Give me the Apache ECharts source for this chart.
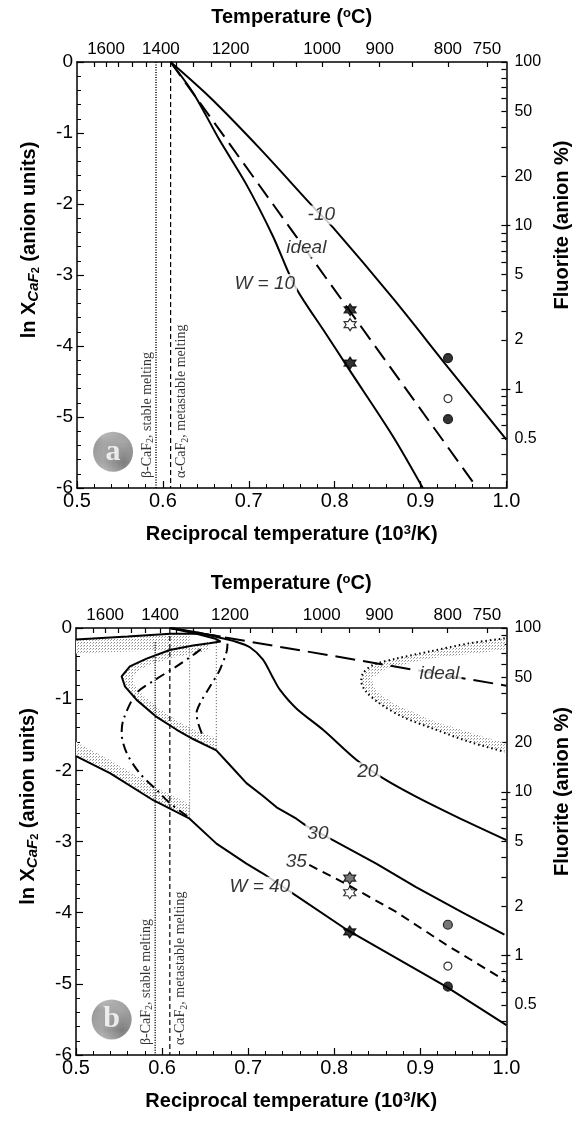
<!DOCTYPE html>
<html><head><meta charset="utf-8">
<script src="https://cdn.jsdelivr.net/npm/echarts@6/dist/echarts.min.js"></script>
<style>html,body{margin:0;padding:0;background:#fff}#c{width:580px;height:1122px}</style>
</head><body><div id="c"></div><script>
// ---------- tick definitions ----------
const xTicks = [0.5, 0.6, 0.7, 0.8, 0.9, 1.0];
const tempTicks = [1650,1600,1550,1500,1450,1400,1350,1300,1250,1200,1150,1100,1050,1000,950,900,850,800,750];
const tempLabels = [1600,1400,1200,1000,900,800,750];
const pctTicks = [100,90,80,70,60,50,40,30,20,10,9,8,7,6,5,4,3,2,1,0.9,0.8,0.7,0.6,0.5,0.4,0.3];
const pctLabels = [100,50,20,10,5,2,1,0.5];
const pctLongTicks = [10,1];

// melting lines (10^3/K)
const meltBeta = 0.592;
const meltAlpha = 0.609;

// ---------- panel a ----------
const aWm10 = [[0.609,0],[0.655,-0.5],[0.713,-1.22],[0.775,-2.04],[0.798,-2.33],[0.868,-3.33],[0.932,-4.30],[1.0,-5.32]];
const aIdeal = [[0.609,0],[0.966,-6]];
const aW10 = [[0.609,0],[0.636,-0.45],[0.666,-1.1],[0.697,-1.72],[0.728,-2.45],[0.7535,-3.15],[0.79,-3.83],[0.8174,-4.34],[0.8678,-5.27],[0.9027,-6]];
const aStarFilled = [[0.818,-3.49],[0.818,-4.24]];
const aStarOpen = [[0.818,-3.70]];
const aCircFilled = [[0.932,-4.17],[0.932,-5.03]];
const aCircOpen = [[0.932,-4.74]];

// ---------- panel b ----------
const bIdeal = [[0.609,0],[1.0,-0.81]];
const bW20 = [[0.609,0],[0.64,-0.06],[0.665,-0.13],[0.685,-0.19],[0.702,-0.27],[0.717,-0.44],[0.728,-0.68],[0.737,-0.87],[0.756,-1.13],[0.787,-1.43],[0.826,-1.855],[0.8565,-2.11],[0.895,-2.37],[0.9416,-2.65],[1.0,-2.98]];
const bW30 = [[0.609,0],[0.64,-0.08],[0.662,-0.15],[0.668,-0.19],[0.655,-0.215],[0.636,-0.245],[0.609,-0.31],[0.582,-0.43],[0.5626,-0.54],[0.553,-0.68],[0.557,-0.825],[0.5704,-1.01],[0.5936,-1.25],[0.617,-1.43],[0.636,-1.56],[0.663,-1.72],[0.6787,-1.925],[0.698,-2.18],[0.7173,-2.36],[0.733,-2.52],[0.756,-2.68],[0.7676,-2.78],[0.7985,-2.98],[0.8488,-3.31],[0.895,-3.64],[0.9493,-4.0],[0.9977,-4.31]];
const bW35 = [[0.771,-3.33],[0.8159,-3.61],[0.872,-3.99],[0.930,-4.45],[0.998,-4.95]];
const bW40Upper = [[0.5,-0.16],[0.56,-0.12],[0.61,-0.08],[0.645,-0.08],[0.668,-0.12]];
const bW40Lower = [[0.5,-1.80],[0.5394,-2.04],[0.5897,-2.42],[0.632,-2.68],[0.6632,-3.03],[0.698,-3.31],[0.7173,-3.45],[0.7483,-3.70],[0.8159,-4.25],[0.930,-5.04],[1.0,-5.58]];
const bDashDotLeft = [[0.645,-0.3],[0.636,-0.38],[0.6155,-0.55],[0.5917,-0.73],[0.570,-0.92],[0.555,-1.29],[0.553,-1.48],[0.559,-1.76],[0.574,-2.04],[0.594,-2.28],[0.609,-2.46],[0.630,-2.65]];
const bDashDotRight = [[0.676,-0.22],[0.675,-0.33],[0.667,-0.59],[0.6555,-0.825],[0.644,-1.06],[0.640,-1.2],[0.642,-1.34],[0.6477,-1.53]];
const bSolvus40 = [[0.632,-0.3],[0.632,-2.68]];
const bSolvus30 = [[0.663,-0.17],[0.663,-1.72]];
const bBetaLine = [[meltBeta,-0.2],[meltBeta,-6]];
const bAlphaLine = [[meltAlpha,0],[meltAlpha,-6]];
const bRightDotted = [[0.998,-0.145],[0.957,-0.215],[0.9107,-0.33],[0.872,-0.43],[0.845,-0.52],[0.8333,-0.64],[0.8314,-0.75],[0.837,-0.895],[0.8527,-1.06],[0.8797,-1.25],[0.9184,-1.43],[0.957,-1.60],[0.998,-1.74]];
const bRightInner = [[0.998,-0.31],[0.9107,-0.43],[0.8603,-0.57],[0.843,-0.71],[0.8488,-0.895],[0.872,-1.08],[0.9184,-1.32],[0.998,-1.62]];
const bBandTop = [[0.5,-0.16],[0.56,-0.12],[0.61,-0.08],[0.632,-0.08],[0.632,-0.3],[0.56,-0.33],[0.5,-0.36]];
const bBandNoseOuter = [[0.663,-0.17],[0.636,-0.245],[0.609,-0.31],[0.582,-0.43],[0.5626,-0.54],[0.553,-0.68],[0.557,-0.825],[0.5704,-1.01],[0.5936,-1.25],[0.617,-1.43],[0.636,-1.56],[0.663,-1.72]];
const bBandNoseInner = [[0.663,-1.55],[0.636,-1.42],[0.617,-1.30],[0.595,-1.12],[0.578,-0.95],[0.568,-0.8],[0.567,-0.68],[0.575,-0.58],[0.59,-0.5],[0.612,-0.42],[0.636,-0.36],[0.655,-0.32],[0.655,-0.25]];
const bBandLower = [[0.5,-1.6],[0.54,-1.86],[0.59,-2.22],[0.632,-2.48],[0.632,-2.68],[0.5897,-2.42],[0.5394,-2.04],[0.5,-1.80]];
const bStarGray = [[0.818,-3.515]];
const bStarOpen = [[0.818,-3.72]];
const bStarBlack = [[0.818,-4.27]];
const bCircGray = [[0.932,-4.17]];
const bCircOpen = [[0.932,-4.75]];
const bCircBlack = [[0.932,-5.04]];

// curve labels (data coords)
const aCurveLabels = [['-10',0.7845,-2.155],['ideal',0.767,-2.62],['W = 10',0.7186,-3.12]];
const bCurveLabels = [['ideal',0.9223,-0.64],['20',0.839,-2.02],['30',0.781,-2.89],['35',0.756,-3.28],['W = 40',0.7135,-3.63]];
const panelLetter = [['a',0.542,-5.49],['b',0.5414,-5.50]];
const meltTextPos = [0.5814,0.6217,-5.86];

// ---------- helpers ----------
const FONT = 'Liberation Sans, Arial, sans-serif';
const SERIF = 'Liberation Serif, Times New Roman, serif';
const toX = T => 1000/(T+273.15);
const toY = p => Math.log(p/100);
const star = 'path://M0,-10L2.887,-5L8.66,-5L5.77,0L8.66,5L2.887,5L0,10L-2.887,5L-8.66,5L-5.77,0L-8.66,-5L-2.887,-5Z';

function makePattern(bg, dots){
  const c = document.createElement('canvas'); c.width = 3; c.height = 3;
  const g = c.getContext('2d'); g.fillStyle = bg; g.fillRect(0,0,3,3);
  dots.forEach(d=>{g.fillStyle=d[2]; g.fillRect(d[0],d[1],1,1);});
  return c;
}
const pat = makePattern('#fff', [[0,0,'#8a8a8a'],[2,1,'#b0b0b0']]);
const discPat = makePattern('#909090', [[0,0,'#5e5e5e'],[2,1,'#c8c8c8'],[1,2,'#6e6e6e']]);

const grids = [
  {left:77, right:73, top:62, height:426},
  {left:76, right:73, top:628, height:427}
];
const xAxes = [], yAxes = [];
grids.forEach((g,i)=>{
  xAxes.push({gridIndex:i, type:'value', min:0.5, max:1.0, interval:0.1, position:'bottom',
    axisLine:{onZero:false, lineStyle:{color:'#000', width:1.5}},
    axisTick:{inside:true, length:7, lineStyle:{color:'#000', width:1.2}},
    minorTick:{show:true, splitNumber:5, length:4, lineStyle:{color:'#000', width:1}},
    splitLine:{show:false},
    axisLabel:{fontFamily:FONT, fontSize:20, color:'#000', margin:3, formatter:v=>v.toFixed(1)},
    name:'{b|Reciprocal temperature (10}{sup|3}{b|/K)}', nameLocation:'middle', nameGap:36,
    nameTextStyle:{rich:{b:{fontFamily:FONT,fontSize:20,fontWeight:'bold',color:'#000'},sup:{fontFamily:FONT,fontSize:13,fontWeight:'bold',color:'#000',verticalAlign:'top',padding:[0,0,8,0]}}}
  });
  xAxes.push({gridIndex:i, type:'value', min:0.5, max:1.0, position:'top',
    axisLine:{onZero:false, lineStyle:{color:'#000', width:1.5}},
    axisTick:{inside:true, length:5, customValues:tempTicks.map(toX), lineStyle:{color:'#000', width:1.2}},
    splitLine:{show:false},
    axisLabel:{fontFamily:FONT, fontSize:17, color:'#000', margin:4, customValues:tempLabels.map(toX), formatter:v=>String(Math.round(1000/v-273.15))},
    name:'{b|Temperature (}{sup|o}{b|C)}', nameLocation:'middle', nameGap:34,
    nameTextStyle:{rich:{b:{fontFamily:FONT,fontSize:20,fontWeight:'bold',color:'#000'},sup:{fontFamily:FONT,fontSize:13,fontWeight:'bold',color:'#000',verticalAlign:'top',padding:[0,0,8,0]}}}
  });
  yAxes.push({gridIndex:i, type:'value', min:-6, max:0, interval:1, position:'left',
    axisLine:{onZero:false, lineStyle:{color:'#000', width:1.5}},
    axisTick:{inside:true, length:7, lineStyle:{color:'#000', width:1.2}},
    minorTick:{show:true, splitNumber:5, length:4, lineStyle:{color:'#000', width:1}},
    splitLine:{show:false},
    axisLabel:{fontFamily:FONT, fontSize:19, color:'#000', margin:4},
    name:'{n|ln X}{s|CaF}{ss|2}{n| (anion units)}', nameLocation:'middle', nameGap:36, nameRotate:90,
    nameTextStyle:{padding:[0,0,0,70], rich:{n:{fontFamily:FONT,fontSize:20,fontWeight:'bold',color:'#000'},s:{fontFamily:FONT,fontSize:15,fontWeight:'bold',fontStyle:'italic',color:'#000',verticalAlign:'bottom',padding:[8,0,0,0]},ss:{fontFamily:FONT,fontSize:11,fontWeight:'bold',color:'#000',verticalAlign:'bottom',padding:[12,0,0,0]}}}
  });
  yAxes.push({gridIndex:i, type:'value', min:-6, max:0, position:'right',
    axisLine:{onZero:false, lineStyle:{color:'#000', width:1.5}},
    axisTick:{inside:true, length:5, customValues:pctTicks.map(toY), lineStyle:{color:'#000', width:1.2}},
    splitLine:{show:false},
    axisLabel:{fontFamily:FONT, fontSize:16, color:'#000', margin:8, customValues:pctLabels.map(toY), formatter:v=>String(parseFloat((Math.exp(v)*100).toPrecision(2)))},
    name:'Fluorite (anion %)', nameLocation:'middle', nameGap:42, nameRotate:90,
    nameTextStyle:{fontFamily:FONT, fontSize:20, fontWeight:'bold', color:'#000', padding:[0,0,0,100]}
  });
  yAxes.push({gridIndex:i, type:'value', min:-6, max:0, position:'right',
    axisLine:{show:false},
    axisTick:{inside:false, length:4, customValues:pctLongTicks.map(toY), lineStyle:{color:'#000', width:1.2}},
    axisLabel:{show:false}, splitLine:{show:false}
  });
});

const series = [];
function ax(g){return {xAxisIndex:g*2, yAxisIndex:g*3};}
function line(g, data, style, extra){
  series.push(Object.assign({type:'line', data, showSymbol:false, symbol:'none', silent:true, clip:true,
    lineStyle:Object.assign({color:'#000', width:2}, style), z:3, animation:false}, ax(g), extra||{}));
}
function poly(g, pts, fill){
  series.push(Object.assign({type:'custom', silent:true, animation:false, z:1, clip:true,
    data:[pts[0]],
    renderItem:(params, api)=>({type:'polygon', shape:{points:pts.map(p=>api.coord(p))}, style:{fill:fill}})
  }, ax(g)));
}
function marks(g, data, symbol, size, color, border){
  series.push(Object.assign({type:'scatter', data, symbol, symbolSize:size, silent:true, animation:false, z:6,
    itemStyle:{color:color, borderColor:border||'#000', borderWidth:1.2}}, ax(g)));
}
function labels(g, arr){
  series.push(Object.assign({type:'scatter', symbolSize:0, silent:true, animation:false, z:8,
    data:arr.map(d=>({name:d[0], value:[d[1],d[2]]})),
    label:{show:true, position:'inside', formatter:'{b}', fontFamily:FONT, fontSize:19, fontStyle:'italic', color:'#000', backgroundColor:'#fff', padding:[0,2]}
  }, ax(g)));
}
function meltText(g){
  const r = {t:{fontFamily:SERIF,fontSize:14,color:'#000'}, s:{fontFamily:SERIF,fontSize:10,color:'#000',verticalAlign:'bottom',padding:[7,0,0,0]}};
  series.push(Object.assign({type:'scatter', symbolSize:0, silent:true, animation:false, z:8,
    data:[{name:'b', value:[meltTextPos[0], meltTextPos[2]]},{name:'a', value:[meltTextPos[1], meltTextPos[2]]}],
    label:{show:true, position:[0,0], rotate:90, align:'left', verticalAlign:'middle',
      formatter:p=>p.name==='b'?'{t|β-CaF}{s|2}{t|, stable melting}':'{t|α-CaF}{s|2}{t|, metastable melting}', rich:r}
  }, ax(g)));
}
function letter(g, d){
  series.push(Object.assign({type:'scatter', symbol:'circle', symbolSize:40, silent:true, animation:false, z:7,
    data:[{name:d[0], value:[d[1],d[2]]}],
    itemStyle:{color:{image:discPat, repeat:'repeat'}},
    label:{show:true, position:'inside', formatter:'{b}', fontFamily:SERIF, fontSize:30, fontWeight:'bold', color:'#fff'}
  }, ax(g)));
}

// panel a
line(0, [[meltBeta,0],[meltBeta,-6]], {width:1.5, type:[1,1.5], color:'#000'});
line(0, [[meltAlpha,0],[meltAlpha,-6]], {width:1.2, type:[5,3]});
line(0, aWm10, {}, {smooth:0.3});
line(0, aIdeal, {type:[17,8]});
line(0, aW10, {}, {smooth:0.3});
marks(0, aStarFilled, star, 12, '#000');
marks(0, aStarOpen, star, 12, '#fff');
marks(0, aCircFilled, 'circle', 9, '#000');
marks(0, aCircOpen, 'circle', 8, '#fff');
labels(0, aCurveLabels);
meltText(0);
letter(0, panelLetter[0]);

// panel b
const stip = {image:pat, repeat:'repeat'};
poly(1, bBandTop, stip);
poly(1, bBandNoseOuter.concat(bBandNoseInner), stip);
poly(1, bBandLower, stip);
poly(1, bRightDotted.concat(bRightInner.slice().reverse()), stip);
line(1, bBetaLine, {width:1.5, type:[1,1.5]});
line(1, bAlphaLine, {width:1.2, type:[5,3]});
line(1, bSolvus40, {width:1, type:[1,2], color:'#555'});
line(1, bSolvus30, {width:1, type:[1,2], color:'#555'});
line(1, bRightDotted, {width:2, type:[1.5,3]}, {smooth:0.3});
line(1, bIdeal, {type:[20,8]});
line(1, bW20, {}, {smooth:0.3});
line(1, bW30, {});
line(1, bW35, {type:[9,6]});
line(1, bW40Upper, {});
line(1, bW40Lower, {});
line(1, bDashDotLeft, {type:[10,5,2,5]}, {smooth:0.3});
line(1, bDashDotRight, {type:[10,5,2,5]}, {smooth:0.3});
marks(1, bStarGray, star, 12, '#555');
marks(1, bStarOpen, star, 12, '#fff');
marks(1, bStarBlack, star, 12, '#000');
marks(1, bCircGray, 'circle', 9, '#555');
marks(1, bCircOpen, 'circle', 8, '#fff');
marks(1, bCircBlack, 'circle', 9, '#000');
labels(1, bCurveLabels);
meltText(1);
letter(1, panelLetter[1]);

const chart = echarts.init(document.getElementById('c'), null, {renderer:'canvas'});
chart.setOption({animation:false, backgroundColor:'#fff', grid:grids, xAxis:xAxes, yAxis:yAxes, series});
</script></body></html>
